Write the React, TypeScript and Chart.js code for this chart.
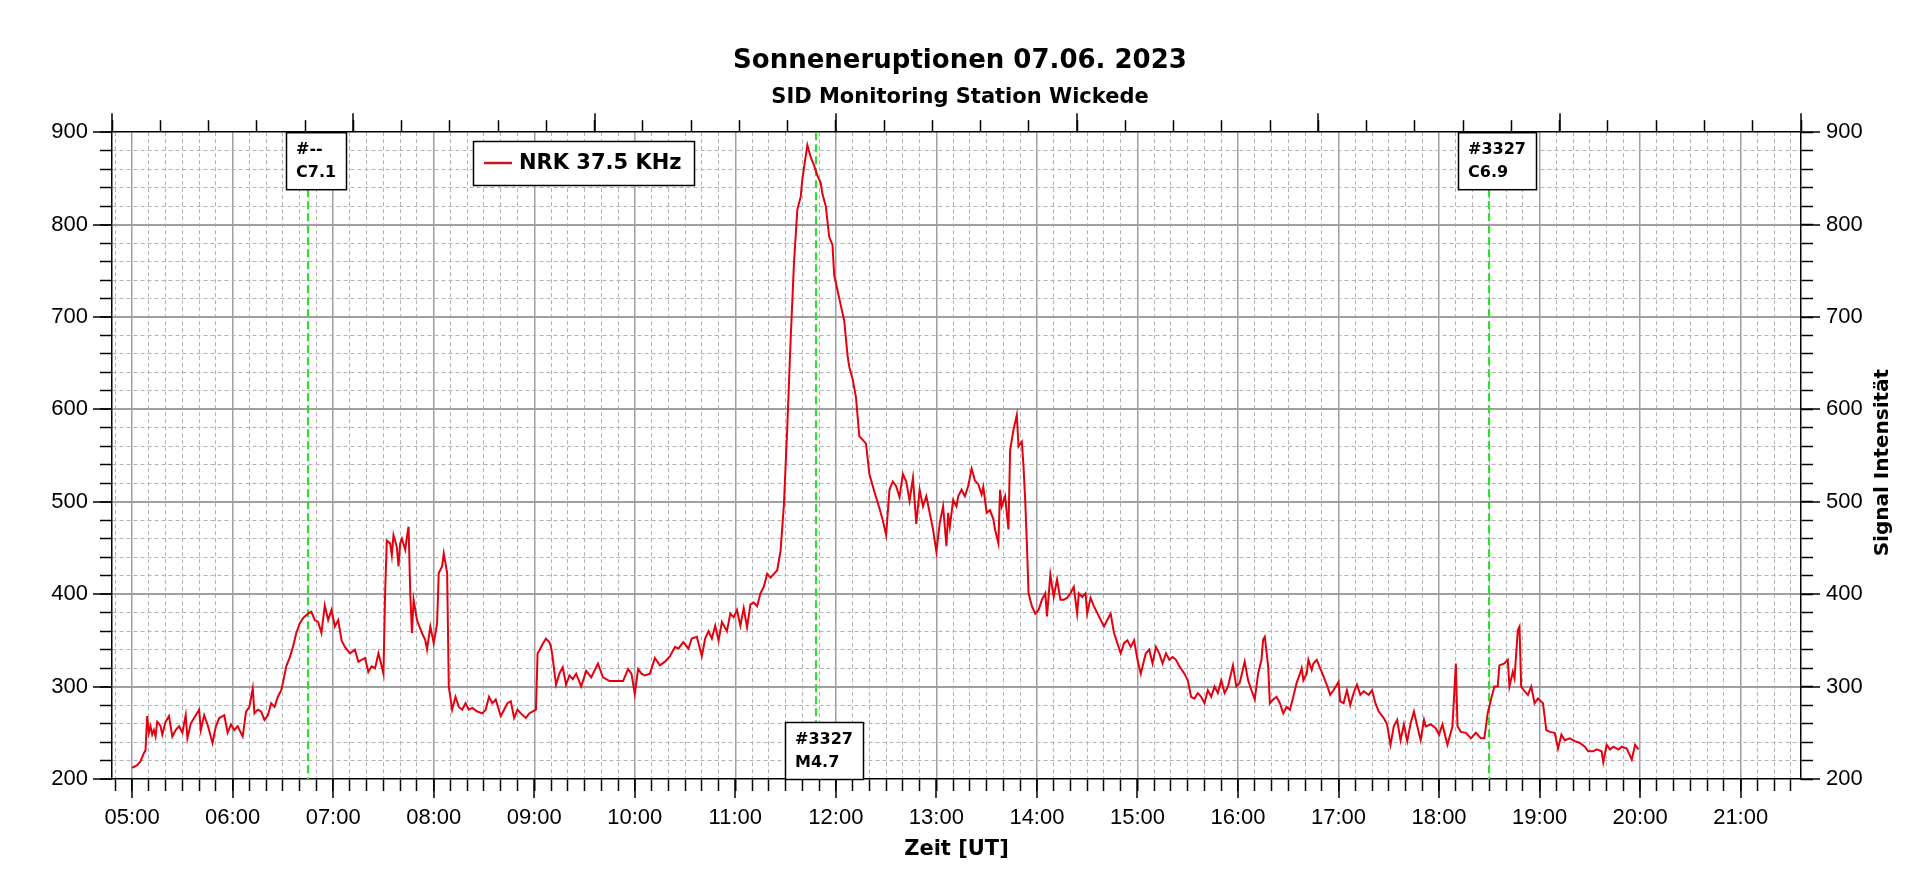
import React, { useEffect, useRef } from 'react';
import { Chart, registerables } from 'chart.js';
import type { Plugin } from 'chart.js';

Chart.register(...registerables);

const TICK_FONT = '"Liberation Sans", Arial, sans-serif';
const BOLD_FONT = '"DejaVu Sans", Verdana, sans-serif';

// NRK 37.5 kHz readings, UT
const timesMorning = [
  '05:00', '05:03', '05:05', '05:07', '05:08', '05:09', '05:10', '05:11', '05:12', '05:13',
  '05:14', '05:15', '05:16', '05:17', '05:18', '05:20', '05:22', '05:24', '05:26', '05:28',
  '05:30', '05:32', '05:33', '05:35', '05:37', '05:40', '05:41', '05:43', '05:45', '05:48',
  '05:50', '05:52', '05:55', '05:57', '05:59', '06:01', '06:03', '06:06', '06:08', '06:10',
  '06:12', '06:13', '06:15', '06:17', '06:19', '06:21', '06:23', '06:25', '06:27', '06:29',
  '06:30', '06:32', '06:34', '06:36', '06:38', '06:40', '06:42', '06:45', '06:47', '06:49',
  '06:51', '06:53', '06:55', '06:57', '06:59', '07:01', '07:03', '07:05', '07:07', '07:10',
  '07:13', '07:15', '07:17', '07:19', '07:21', '07:23', '07:25', '07:27', '07:28', '07:30',
  '07:31', '07:32', '07:34', '07:35', '07:36', '07:38', '07:39', '07:40', '07:41', '07:43',
  '07:44', '07:45', '07:46', '07:47', '07:48', '07:50', '07:53', '07:55', '07:56', '07:58',
  '08:00', '08:02', '08:03', '08:05', '08:06', '08:08', '08:09', '08:11', '08:13', '08:15',
  '08:17', '08:19', '08:21', '08:23', '08:26', '08:29', '08:31', '08:33', '08:35', '08:37',
  '08:40', '08:42', '08:44', '08:46', '08:48', '08:50', '08:52', '08:55', '08:57', '09:01',
  '09:02',
];
const signalMorning = [
  212, 215, 219, 228, 231, 268, 250, 257, 248, 253,
  246, 262, 260, 257, 248, 262, 268, 246, 253, 257,
  250, 269, 244, 260, 266, 275, 253, 269, 259, 239,
  257, 266, 269, 250, 259, 253, 257, 246, 273, 278,
  298, 271, 275, 273, 264, 269, 282, 278, 289, 296,
  304, 322, 331, 343, 358, 368, 374, 379, 381, 372,
  370, 358, 388, 372, 383, 365, 372, 350, 343, 336,
  340, 327, 329, 331, 316, 322, 320, 336, 329, 314,
  401, 458, 455, 442, 464, 451, 430, 455, 460, 448,
  462, 473, 401, 358, 394, 372, 358, 350, 340, 365,
  347, 368, 423, 430, 444, 423, 300, 275, 289, 278,
  275, 282, 275, 277, 273, 271, 275, 289, 282, 286,
  268, 275, 282, 284, 266, 275, 271, 266, 271, 275,
  336,
];

const timesMidday = [
  '09:03', '09:05', '09:07', '09:09', '09:10', '09:11', '09:13', '09:15', '09:17', '09:19',
  '09:21', '09:23', '09:25', '09:28', '09:31', '09:34', '09:38', '09:41', '09:45', '09:49',
  '09:53', '09:56', '09:58', '10:00', '10:02', '10:04', '10:06', '10:09', '10:12', '10:15',
  '10:18', '10:21', '10:24', '10:26', '10:29', '10:32', '10:34', '10:37', '10:40', '10:42',
  '10:44', '10:46', '10:48', '10:50', '10:52', '10:55', '10:57', '10:59', '11:01', '11:03',
  '11:05', '11:07', '11:09', '11:11', '11:13', '11:15', '11:17', '11:19', '11:21', '11:23',
  '11:25', '11:27', '11:29', '11:31', '11:33', '11:35', '11:37', '11:39', '11:40', '11:42',
  '11:43', '11:45', '11:47', '11:49', '11:51', '11:52', '11:54', '11:56', '11:58', '11:59',
  '12:01', '12:03', '12:05', '12:07', '12:08', '12:10', '12:12', '12:14', '12:18', '12:20',
  '12:22', '12:24', '12:26', '12:28', '12:30', '12:32', '12:34', '12:36', '12:38', '12:40',
  '12:42', '12:44', '12:46', '12:48', '12:50',
];
const signalMidday = [
  339, 346, 352, 348, 343, 331, 302, 314, 321, 302,
  312, 308, 314, 300, 317, 310, 325, 310, 306, 306,
  306, 319, 314, 292, 319, 314, 312, 314, 331, 323,
  327, 333, 343, 341, 348, 341, 352, 354, 333, 352,
  360, 352, 366, 350, 370, 360, 379, 375, 383, 366,
  385, 364, 389, 391, 387, 401, 408, 422, 418, 422,
  426, 447, 497, 580, 675, 758, 816, 830, 849, 874,
  886, 873, 864, 853, 845, 833, 820, 787, 778, 745,
  729, 712, 696, 658, 646, 633, 613, 571, 563, 530,
  517, 505, 493, 480, 464, 513, 522, 517, 505, 530,
  522, 501, 526, 476, 513,
];

const timesAfternoon = [
  '12:52', '12:54', '12:56', '12:58', '13:00', '13:02', '13:04', '13:06', '13:07', '13:08',
  '13:10', '13:12', '13:13', '13:15', '13:17', '13:19', '13:21', '13:23', '13:25', '13:27',
  '13:28', '13:30', '13:32', '13:34', '13:35', '13:37', '13:38', '13:39', '13:41', '13:43',
  '13:44', '13:46', '13:48', '13:49', '13:51', '13:52', '13:53', '13:54', '13:55', '13:57',
  '13:59', '14:01', '14:03', '14:05', '14:06', '14:08', '14:10', '14:12', '14:14', '14:16',
  '14:18', '14:20', '14:22', '14:24', '14:25', '14:27', '14:29', '14:30', '14:32', '14:34',
  '14:37', '14:40', '14:42', '14:44', '14:46', '14:48', '14:50', '14:52', '14:54', '14:56',
  '14:58', '15:00', '15:02', '15:04', '15:05', '15:07', '15:09', '15:11', '15:13', '15:15',
  '15:17', '15:19', '15:21', '15:23', '15:25', '15:28', '15:30', '15:32', '15:34', '15:36',
  '15:38', '15:40', '15:42', '15:44', '15:46', '15:48', '15:50', '15:52', '15:54', '15:57',
  '15:59', '16:01', '16:04', '16:06', '16:08', '16:10', '16:12', '16:14', '16:15', '16:16',
  '16:18', '16:19', '16:21', '16:23', '16:25', '16:27', '16:29',
];
const signalAfternoon = [
  495, 506, 488, 470, 446, 477, 495, 452, 488, 473,
  502, 495, 506, 513, 506, 517, 536, 523, 519, 508,
  516, 488, 491, 481, 470, 455, 513, 495, 506, 470,
  556, 578, 594, 560, 565, 538, 502, 455, 401, 387,
  379, 383, 394, 401, 376, 421, 397, 416, 394, 394,
  396, 401, 408, 379, 401, 397, 401, 379, 396, 387,
  376, 365, 372, 379, 358, 347, 336, 347, 350, 343,
  350, 329, 314, 329, 336, 340, 325, 343, 336, 325,
  336, 329, 332, 329, 322, 314, 307, 289, 287, 293,
  289, 282, 296, 289, 300, 293, 307, 293, 300, 323,
  300, 304, 327, 307, 296, 286, 314, 329, 351, 354,
  322, 282, 286, 289, 282, 271, 278,
];

const timesEvening = [
  '16:31', '16:33', '16:35', '16:37', '16:38', '16:39', '16:41', '16:42', '16:44', '16:45',
  '16:47', '16:49', '16:51', '16:53', '16:55', '16:57', '17:00', '17:01', '17:03', '17:05',
  '17:07', '17:09', '17:11', '17:13', '17:15', '17:18', '17:20', '17:22', '17:24', '17:27',
  '17:29', '17:31', '17:33', '17:35', '17:37', '17:39', '17:41', '17:43', '17:45', '17:47',
  '17:49', '17:51', '17:52', '17:55', '17:58', '18:00', '18:02', '18:05', '18:08', '18:10',
  '18:11', '18:13', '18:16', '18:19', '18:22', '18:25', '18:27', '18:29', '18:31', '18:33',
  '18:35', '18:36', '18:39', '18:41', '18:42', '18:44', '18:45', '18:47', '18:48', '18:49',
  '18:51', '18:53', '18:55', '18:57', '18:59', '19:02', '19:04', '19:06', '19:09', '19:11',
  '19:13', '19:15', '19:18', '19:21', '19:24', '19:27', '19:29', '19:32', '19:34', '19:37',
  '19:38', '19:40', '19:42', '19:44', '19:47', '19:49', '19:52', '19:55', '19:57', '19:59',
];
const signalEvening = [
  275, 289, 304, 314, 320, 307, 314, 329, 318, 325,
  329, 320, 311, 302, 291, 296, 305, 284, 282, 296,
  280, 293, 302, 291, 295, 291, 296, 282, 273, 266,
  259, 237, 257, 264, 242, 259, 241, 260, 273, 257,
  242, 264, 257, 259, 255, 248, 259, 237, 257, 325,
  257, 251, 250, 244, 250, 244, 244, 271, 286, 300,
  300, 323, 325, 329, 300, 316, 309, 361, 365, 300,
  295, 291, 300, 282, 287, 282, 253, 251, 250, 233,
  248, 242, 244, 241, 239, 235, 230, 230, 232, 230,
  218, 237, 232, 235, 232, 235, 233, 221, 237, 232,
];

// flare markers
const flareTimes = ['06:45', '11:48', '18:30'];
const flareRegions = ['#--', '#3327', '#3327'];
const flareClasses = ['C7.1', 'M4.7', 'C6.9'];
const flareLabelAt = ['top', 'bottom', 'top'];

const axisStart = '04:48';
const axisEnd = '21:36';
const signalMin = 200;
const signalMax = 900;
const topDivisions = 35;

const seriesLabel = 'NRK 37.5 KHz';
const rightTitle = 'Signal Intensität';

const BOX_H = 57;

const toMin = (t: string) => {
  const [h, m] = t.split(':').map(Number);
  return h * 60 + m;
};
const hhmm = (v: number) =>
  String(Math.floor(v / 60)).padStart(2, '0') + ':' + String(v % 60).padStart(2, '0');

const segments: [string[], number[]][] = [
  [timesMorning, signalMorning],
  [timesMidday, signalMidday],
  [timesAfternoon, signalAfternoon],
  [timesEvening, signalEvening],
];
const points = segments.flatMap(([ts, vs]) => ts.map((t, i) => ({ x: toMin(t), y: vs[i] })));

const decorPlugin: Plugin<'line'> = {
  id: 'sidDecor',
  beforeDatasetsDraw(chart) {
    const { ctx, chartArea: a, scales } = chart;
    ctx.save();
    ctx.strokeStyle = '#2ee02e';
    ctx.lineWidth = 2.2;
    ctx.setLineDash([8, 4]);
    flareTimes.forEach((t, i) => {
      const px = Math.round(scales.x.getPixelForValue(toMin(t)));
      ctx.beginPath();
      if (flareLabelAt[i] === 'top') {
        ctx.moveTo(px, a.top + BOX_H);
        ctx.lineTo(px, a.bottom);
      } else {
        ctx.moveTo(px, a.top);
        ctx.lineTo(px, a.bottom - BOX_H);
      }
      ctx.stroke();
    });
    ctx.restore();
  },
  afterDraw(chart) {
    const { ctx, chartArea: a, scales } = chart;
    const { x, y, x2 } = scales;
    ctx.save();
    ctx.setLineDash([]);

    // long ticks
    ctx.strokeStyle = '#000';
    ctx.lineWidth = 1.5;
    ctx.beginPath();
    x.ticks.forEach((t) => {
      if (t.value % 60 === 0) {
        const p = Math.round(x.getPixelForValue(t.value));
        ctx.moveTo(p, a.bottom);
        ctx.lineTo(p, a.bottom + 19);
      }
    });
    x2.ticks.forEach((t) => {
      if (t.value % 5 === 0) {
        const p = Math.round(x2.getPixelForValue(t.value));
        ctx.moveTo(p, a.top);
        ctx.lineTo(p, a.top - 19);
      }
    });
    y.ticks.forEach((t) => {
      if (t.value % 100 === 0) {
        const p = Math.round(y.getPixelForValue(t.value));
        ctx.moveTo(a.left, p);
        ctx.lineTo(a.left - 19, p);
        ctx.moveTo(a.right, p);
        ctx.lineTo(a.right + 19, p);
      }
    });
    ctx.stroke();

    // flare boxes
    ctx.font = `bold 16px ${BOLD_FONT}`;
    ctx.textBaseline = 'middle';
    ctx.textAlign = 'left';
    flareTimes.forEach((t, i) => {
      const px = x.getPixelForValue(toMin(t));
      const w = Math.round(
        Math.max(ctx.measureText(flareRegions[i]).width, ctx.measureText(flareClasses[i]).width) + 20
      );
      const left = Math.round(px + 8 - w / 2);
      const top = flareLabelAt[i] === 'top' ? a.top : a.bottom - BOX_H;
      ctx.fillStyle = '#fff';
      ctx.fillRect(left, top, w, BOX_H);
      ctx.strokeStyle = '#000';
      ctx.lineWidth = 1.5;
      ctx.strokeRect(left + 0.5, top + 0.5, w, BOX_H);
      ctx.fillStyle = '#000';
      ctx.fillText(flareRegions[i], left + 10, top + 18);
      ctx.fillText(flareClasses[i], left + 10, top + 41);
    });

    // legend
    ctx.font = `bold 21px ${BOLD_FONT}`;
    const lw = Math.round(46 + ctx.measureText(seriesLabel).width + 12);
    const lx = Math.round(a.left + 361);
    const ly = Math.round(a.top + 9);
    ctx.fillStyle = '#fff';
    ctx.fillRect(lx, ly, lw, 44);
    ctx.strokeStyle = '#000';
    ctx.lineWidth = 1.5;
    ctx.strokeRect(lx + 0.5, ly + 0.5, lw, 44);
    ctx.strokeStyle = '#c8141c';
    ctx.lineWidth = 2.5;
    ctx.beginPath();
    ctx.moveTo(lx + 11, ly + 22);
    ctx.lineTo(lx + 39, ly + 22);
    ctx.stroke();
    ctx.fillStyle = '#000';
    ctx.fillText(seriesLabel, lx + 46, ly + 23);

    // right axis title, reading upwards
    ctx.font = `bold 20px ${BOLD_FONT}`;
    ctx.textAlign = 'center';
    ctx.translate(a.right + 82, (a.top + a.bottom) / 2 + 7);
    ctx.rotate(-Math.PI / 2);
    ctx.fillText(rightTitle, 0, 0);
    ctx.restore();
  },
};

const isHour = (c: any) => c.tick && c.tick.value % 60 === 0;
const isHundred = (c: any) => c.tick && c.tick.value % 100 === 0;
const isEdge = (c: any) => c.tick && (c.tick.value === signalMin || c.tick.value === signalMax);

const tickFont = { family: TICK_FONT, size: 22 };
const axisBorder = { color: '#000', width: 1.5 };

const App: React.FC = () => {
  const canvasRef = useRef<HTMLCanvasElement>(null);
  const chartRef = useRef<Chart>();

  useEffect(() => {
    document.body.style.margin = '0';
    if (!canvasRef.current) return;
    if (chartRef.current) chartRef.current.destroy();

    const yTicks = {
      stepSize: 20,
      autoSkip: false,
      color: '#000',
      font: tickFont,
      callback: (v: any) => (Number(v) % 100 === 0 ? String(v) : ''),
    };

    chartRef.current = new Chart(canvasRef.current, {
      type: 'line',
      data: {
        datasets: [
          {
            label: seriesLabel,
            data: points,
            borderColor: '#e4000f',
            borderWidth: 2,
            pointRadius: 0,
            tension: 0,
            fill: false,
          },
        ],
      },
      options: {
        responsive: false,
        animation: false,
        devicePixelRatio: 1,
        layout: { padding: 0 },
        plugins: {
          legend: { display: false },
          tooltip: { enabled: false },
          title: {
            display: true,
            text: 'Sonneneruptionen 07.06. 2023',
            color: '#000',
            font: { family: BOLD_FONT, size: 26, weight: 'bold' },
            padding: { top: 46, bottom: 4 },
          },
          subtitle: {
            display: true,
            text: 'SID Monitoring Station Wickede',
            color: '#000',
            font: { family: BOLD_FONT, size: 21, weight: 'bold' },
            padding: { top: 4, bottom: 2.8 },
          },
        },
        scales: {
          x: {
            type: 'linear',
            position: 'bottom',
            min: toMin(axisStart),
            max: toMin(axisEnd),
            afterBuildTicks: (s: any) => {
              const ticks = [];
              for (let v = Math.ceil(s.min / 10) * 10; v <= s.max; v += 10) ticks.push({ value: v });
              s.ticks = ticks;
            },
            afterFit: (s: any) => {
              s.height = 100;
            },
            ticks: {
              autoSkip: false,
              maxRotation: 0,
              minRotation: 0,
              padding: 14,
              color: '#000',
              font: tickFont,
              callback: (v: any) => (Number(v) % 60 === 0 ? hhmm(Number(v)) : ''),
            },
            grid: {
              color: (c: any) => (isHour(c) ? '#a0a0a0' : '#b2b2b2'),
              lineWidth: (c: any) => (isHour(c) ? 1.5 : 1),
              tickColor: '#000',
              tickLength: 12,
              tickWidth: 1.5,
            },
            border: { ...axisBorder, dash: (c: any) => (c.tick && !isHour(c) ? [4, 3] : []) },
            title: {
              display: true,
              text: 'Zeit [UT]',
              color: '#000',
              font: { family: BOLD_FONT, size: 21, weight: 'bold' },
              padding: { top: 0, bottom: 17 },
            },
          },
          x2: {
            type: 'linear',
            position: 'top',
            min: 0,
            max: topDivisions,
            afterBuildTicks: (s: any) => {
              const ticks = [];
              for (let v = 0; v <= topDivisions; v++) ticks.push({ value: v });
              s.ticks = ticks;
            },
            afterFit: (s: any) => {
              s.height = 19;
            },
            ticks: { display: false },
            grid: { drawOnChartArea: false, tickColor: '#000', tickLength: 12, tickWidth: 1.5 },
            border: axisBorder,
          },
          y: {
            position: 'left',
            min: signalMin,
            max: signalMax,
            afterFit: (s: any) => {
              s.width = 112;
            },
            ticks: { ...yTicks, padding: 12 },
            grid: {
              color: (c: any) => (isEdge(c) ? 'rgba(0,0,0,0)' : isHundred(c) ? '#a0a0a0' : '#b2b2b2'),
              lineWidth: (c: any) => (isHundred(c) ? 2 : 1),
              tickColor: '#000',
              tickLength: 12,
              tickWidth: 1.5,
            },
            border: { ...axisBorder, dash: (c: any) => (c.tick && !isHundred(c) ? [4, 3] : []) },
          },
          y2: {
            position: 'right',
            min: signalMin,
            max: signalMax,
            afterFit: (s: any) => {
              s.width = 119;
            },
            ticks: { ...yTicks, padding: 13 },
            grid: { drawOnChartArea: false, tickColor: '#000', tickLength: 12, tickWidth: 1.5 },
            border: axisBorder,
          },
        },
      } as any,
      plugins: [decorPlugin],
    });

    return () => {
      if (chartRef.current) {
        chartRef.current.destroy();
        chartRef.current = undefined;
      }
    };
  }, []);

  return (
    <div style={{ width: 1920, height: 879, background: '#fff' }}>
      <canvas ref={canvasRef} width={1920} height={879} style={{ display: 'block' }} />
    </div>
  );
};

export default App;
